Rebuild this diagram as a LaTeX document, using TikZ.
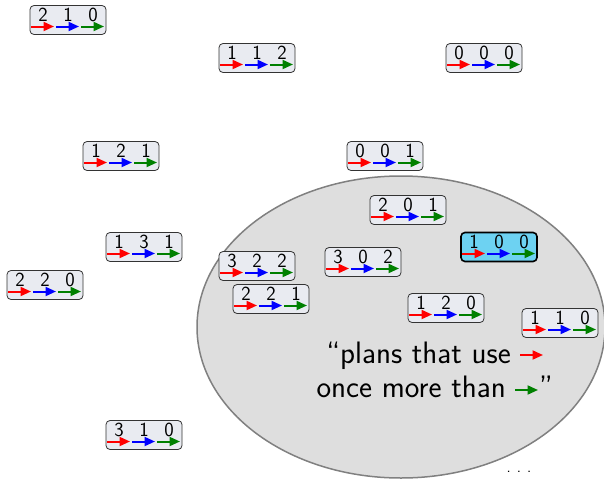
\documentclass[tikz,border=0pt]{standalone}
\usetikzlibrary{arrows.meta,shapes.geometric}
\definecolor{boxfill}{HTML}{E9EBF1}
\definecolor{hifill}{HTML}{6DD2F2}
\definecolor{setfill}{HTML}{DEDEDE}
\definecolor{setline}{HTML}{808080}
\definecolor{dgreen}{HTML}{008000}
\tikzset{
  planbox/.style={draw=black!80, line width=0.8pt, fill=boxfill, rounded corners=4pt,
    minimum width=76pt, minimum height=29pt, inner sep=0pt},
  chosen/.style={line width=1.6pt, draw=black, fill=hifill},
  digit/.style={font=\sffamily\fontsize{20}{20}\selectfont, inner sep=0pt, anchor=base},
  arr/.style={line width=2pt, -{Triangle[length=10.5pt,width=9pt]}},
  settext/.style={font=\sffamily\fontsize{31}{35}\selectfont, inner sep=0pt, anchor=base east},
}
\newcommand\planbox[6][]{%
  \node[planbox,#1] (#2) at (#3) {};
  \node[digit] (#2-a) at ([shift={(-25,1)}]#2.center) {#4};
  \node[digit] (#2-b) at ([shift={(0,1)}]#2.center) {#5};
  \node[digit] (#2-c) at ([shift={(25,1)}]#2.center) {#6};
  \coordinate (#2-ra) at ([shift={(-37,6.5)}]#2.center);
  \coordinate (#2-rb) at ([shift={(-12,6.5)}]#2.center);
  \coordinate (#2-rc) at ([shift={(13,6.5)}]#2.center);
  \draw[arr,red] (#2-ra) -- ++(23,0);
  \draw[arr,blue] (#2-rb) -- ++(23,0);
  \draw[arr,dgreen] (#2-rc) -- ++(23,0);
}
\begin{document}
\begin{tikzpicture}[x=1pt,y=-1pt]
\useasboundingbox (0,0) rectangle (604,479);
\node[draw=setline, line width=1.5pt, fill=setfill, ellipse, minimum width=408pt, minimum height=302pt, inner sep=0pt] (set) at (401,327) {};
\planbox{p210}{68,20}{2}{1}{0}
\planbox{p112}{257,58}{1}{1}{2}
\planbox{p000}{484,58}{0}{0}{0}
\planbox{p121}{121,156}{1}{2}{1}
\planbox{p001}{385,156}{0}{0}{1}
\planbox{p201}{408,210}{2}{0}{1}
\planbox{p131}{144,247}{1}{3}{1}
\planbox[chosen]{p100}{499,247}{1}{0}{0}
\planbox{p322}{257,266}{3}{2}{2}
\planbox{p302}{363,262}{3}{0}{2}
\planbox{p220}{45,285}{2}{2}{0}
\planbox{p221}{271,299}{2}{2}{1}
\planbox{p120}{446,308}{1}{2}{0}
\planbox{p110}{560,323}{1}{1}{0}
\planbox{p310}{144,435}{3}{1}{0}
\node[settext] (line1) at (511,363) {\textquotedblleft plans that use};
\coordinate (l1a) at (520,355);
\draw[arr,red] (l1a) -- ++(23,0);
\node[settext] (line2) at (506,397) {once more than};
\coordinate (l2a) at (515,390);
\draw[arr,dgreen] (l2a) -- ++(23,0);
\node[settext, anchor=base west] (q) at (539,397) {\textquotedblright};
\node[font=\sffamily\fontsize{16}{16}\selectfont, inner sep=0pt, anchor=base] (dots) at (519,472) {.\hspace{6pt}.\hspace{6pt}.};
\end{tikzpicture}
\end{document}
